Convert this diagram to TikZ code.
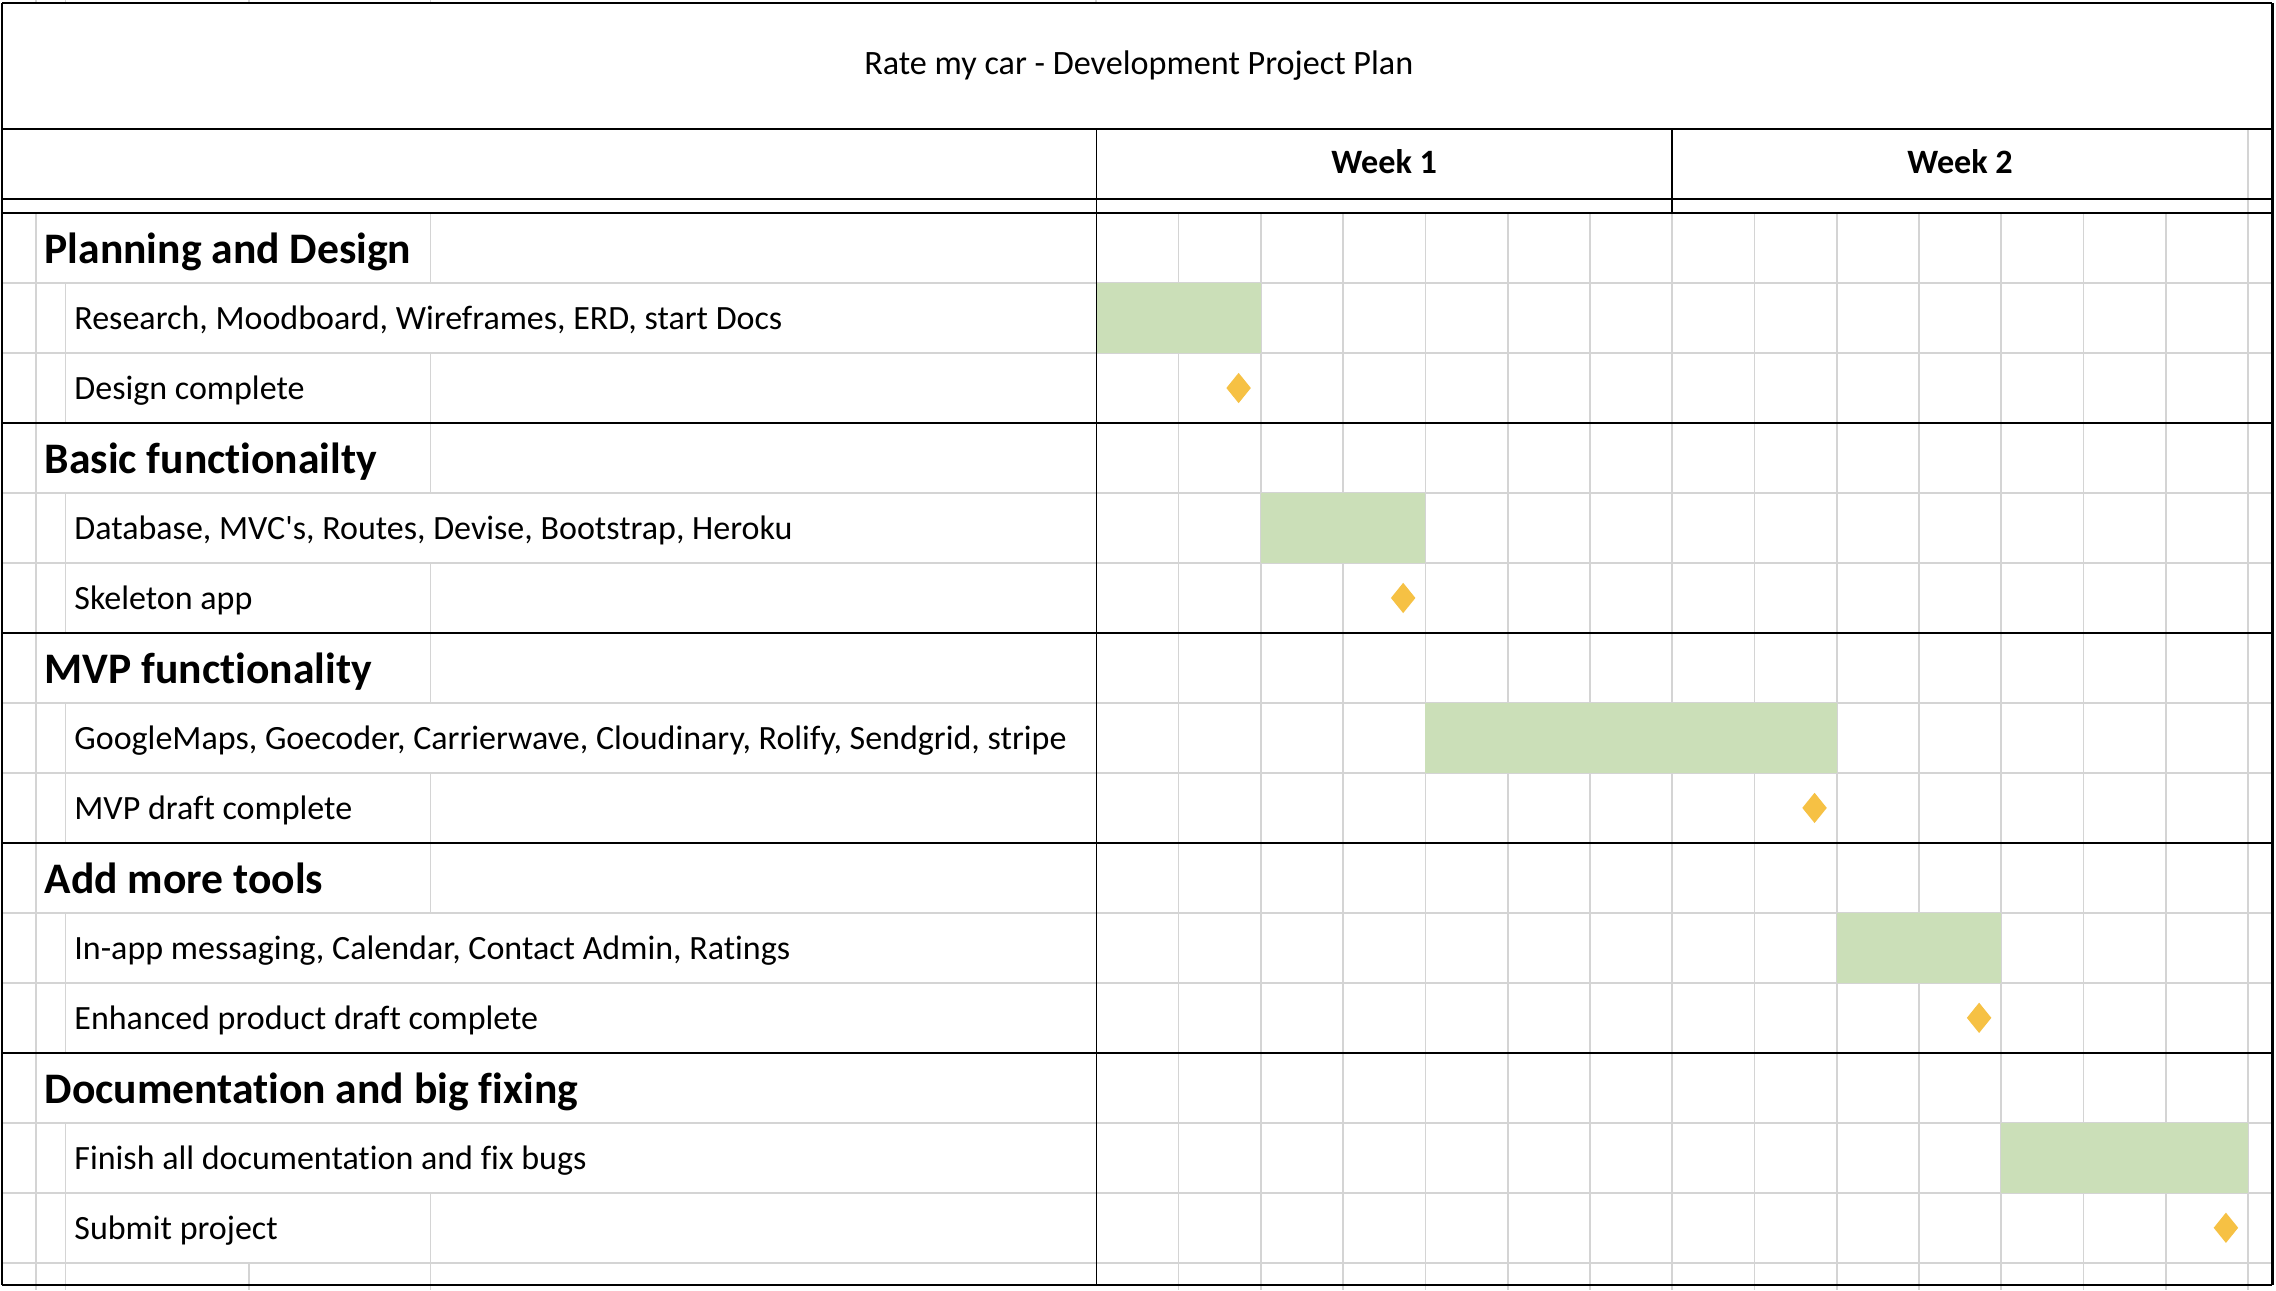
\documentclass[tikz,border=0pt]{standalone}
\usepackage{fontspec}
\setmainfont{Carlito}[Ligatures=NoCommon]
\usetikzlibrary{shapes.geometric}
\definecolor{gridgray}{HTML}{D4D4D4}
\definecolor{bargreen}{HTML}{CBDFB8}
\definecolor{msgold}{HTML}{F6C144}
\begin{document}
\begin{tikzpicture}[x=1pt,y=-1pt,
  gridline/.style={draw=gridgray,line width=1.2pt},
  border/.style={draw=black,line width=1.6pt},
  thinblack/.style={draw=black,line width=1.1pt},
  taskbar/.style={fill=bargreen},
  milestone/.style={diamond,fill=msgold,minimum width=17pt,minimum height=21pt,inner sep=0pt},
  titletext/.style={font=\fontsize{23.5}{27}\selectfont,anchor=base,inner sep=0pt},
  weektext/.style={font=\bfseries\fontsize{23.5}{27}\selectfont,anchor=base,inner sep=0pt},
  sectext/.style={font=\bfseries\fontsize{30}{34}\selectfont,anchor=base west,inner sep=0pt},
  tasktext/.style={font=\fontsize{23.4}{27}\selectfont,anchor=base west,inner sep=0pt},
]
\useasboundingbox (0,0) rectangle (1566,887.6);
\fill[white] (0,0) rectangle (1566,887.6);
\def\yo{146.6}
\def\rh{48.15}
\def\xo{754.3}
\def\cw{56.61}
% ---------- gray grid ----------
\foreach \i in {1,2,4,5,7,8,10,11,13,14,15}
  \draw[gridline] (1.5,{\yo+\rh*\i}) -- (1563.5,{\yo+\rh*\i});
\foreach \j in {1,...,13}
  \draw[gridline] ({\xo+\cw*\j},\yo) -- ({\xo+\cw*\j},887.6);
\draw[gridline] ({\xo+\cw*14},88.8) -- ({\xo+\cw*14},887.6);
\draw[gridline] (25,\yo) -- (25,887.6);
\foreach \r in {1,4,7,10,13}
  \draw[gridline] (45,{\yo+\rh*\r}) -- (45,{\yo+\rh*(\r+2)});
\draw[gridline] (45,{\yo+\rh*15}) -- (45,887.6);
\foreach \r in {0,2,3,5,6,8,9,14}
  \draw[gridline] (296.2,{\yo+\rh*\r}) -- (296.2,{\yo+\rh*(\r+1)});
\draw[gridline] (296.2,{\yo+\rh*15}) -- (296.2,887.6);
\draw[gridline] (171.1,{\yo+\rh*15}) -- (171.1,887.6);
\foreach \x in {25,45,171.1,296.2,754.3}
  \draw[gridline] (\x,0) -- (\x,2);
% ---------- task bars ----------
\fill[taskbar] (\xo,{\yo+\rh*1}) rectangle ({\xo+\cw*2},{\yo+\rh*2});
\fill[taskbar] ({\xo+\cw*2},{\yo+\rh*4}) rectangle ({\xo+\cw*4},{\yo+\rh*5});
\fill[taskbar] ({\xo+\cw*4},{\yo+\rh*7}) rectangle ({\xo+\cw*9},{\yo+\rh*8});
\fill[taskbar] ({\xo+\cw*9},{\yo+\rh*10}) rectangle ({\xo+\cw*11},{\yo+\rh*11});
\fill[taskbar] ({\xo+\cw*11},{\yo+\rh*13}) rectangle ({\xo+\cw*14},{\yo+\rh*14});
% ---------- milestones ----------
\node[milestone] (ms1) at ({\xo+\cw*2-15.3},{\yo+\rh*2.5}) {};
\node[milestone] (ms2) at ({\xo+\cw*4-15.3},{\yo+\rh*5.5}) {};
\node[milestone] (ms3) at ({\xo+\cw*9-15.3},{\yo+\rh*8.5}) {};
\node[milestone] (ms4) at ({\xo+\cw*11-15.3},{\yo+\rh*11.5}) {};
\node[milestone] (ms5) at ({\xo+\cw*14-15.3},{\yo+\rh*14.5}) {};
% ---------- black lines ----------
\foreach \y in {2.1,88.8,136.9,146.6}
  \draw[border] (1.5,\y) -- (1563.5,\y);
\foreach \r in {3,6,9,12}
  \draw[border] (1.5,{\yo+\rh*\r}) -- (1563.5,{\yo+\rh*\r});
\draw[border] (1.5,884) -- (1563.5,884);
\draw[border] (1.5,2.1) -- (1.5,884);
\draw[border] (1563.5,2.1) -- (1563.5,884);
\draw[thinblack] (\xo,88.8) -- (\xo,884);
\draw[thinblack] (1150.5,88.8) -- (1150.5,\yo);
% ---------- texts ----------
\node[titletext] (title) at (783.5,51.6) {Rate my car - Development Project Plan};
\node[weektext] (week1) at (952.4,119.7) {Week 1};
\node[weektext] (week2) at (1348.6,119.7) {Week 2};
\node[sectext] (sec1) at (30.5,{\yo+\rh*0+34.6}) {Planning and Design};
\node[tasktext] (t1) at (51,{\yo+\rh*1+31.8}) {Research, Moodboard, Wireframes, ERD, start Docs};
\node[tasktext] (t2) at (51,{\yo+\rh*2+31.8}) {Design complete};
\node[sectext] (sec2) at (30.5,{\yo+\rh*3+34.6}) {Basic functionailty};
\node[tasktext] (t3) at (51,{\yo+\rh*4+31.8}) {Database, MVC\textquotesingle s, Routes, Devise, Bootstrap, Heroku};
\node[tasktext] (t4) at (51,{\yo+\rh*5+31.8}) {Skeleton app};
\node[sectext] (sec3) at (30.5,{\yo+\rh*6+34.6}) {MVP functionality};
\node[tasktext] (t5) at (51,{\yo+\rh*7+31.8}) {GoogleMaps, Goecoder, Carrierwave, Cloudinary, Rolify, Sendgrid, stripe};
\node[tasktext] (t6) at (51,{\yo+\rh*8+31.8}) {MVP draft complete};
\node[sectext] (sec4) at (30.5,{\yo+\rh*9+34.6}) {Add more tools};
\node[tasktext] (t7) at (51,{\yo+\rh*10+31.8}) {In-app messaging, Calendar, Contact Admin, Ratings};
\node[tasktext] (t8) at (51,{\yo+\rh*11+31.8}) {Enhanced product draft complete};
\node[sectext] (sec5) at (30.5,{\yo+\rh*12+34.6}) {Documentation and big fixing};
\node[tasktext] (t9) at (51,{\yo+\rh*13+31.8}) {Finish all documentation and fix bugs};
\node[tasktext] (t10) at (51,{\yo+\rh*14+31.8}) {Submit project};
\end{tikzpicture}
\end{document}
